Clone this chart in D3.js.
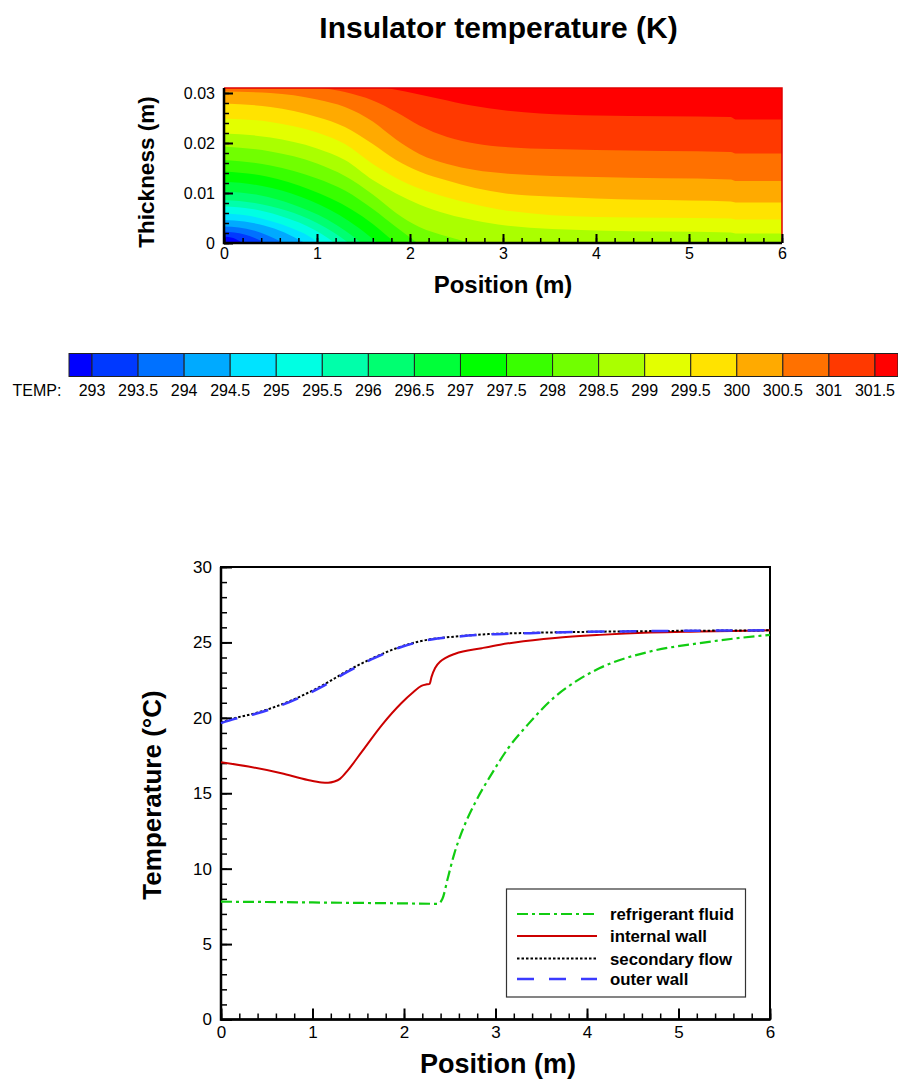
<!DOCTYPE html>
<html>
<head>
<meta charset="utf-8">
<title>Insulator temperature</title>
<script src="https://d3js.org/d3.v7.min.js"></script>
<style>
    body { margin: 0; background: #fff; }
    svg { display: block; font-family: "Liberation Sans", Arial, Helvetica, sans-serif; }
    .axis text { font-family: "Liberation Sans", Arial, Helvetica, sans-serif; fill: #000; }
    .axis line { stroke: #000; }
    .title { font-weight: bold; fill: #000; }
</style>
</head>
<body>
<script>
(function(){

    //contour levels (K) shown on the colour bar
    var levels = [293, 293.5, 294, 294.5, 295, 295.5, 296, 296.5, 297, 297.5,
                  298, 298.5, 299, 299.5, 300, 300.5, 301, 301.5];

    //isotherms: [position (m), thickness (m)] for each level above
    var isotherms = [
        [[0,0.0013],[0.1,0.0010],[0.2,0]],
        [[0,0.0023],[0.11,0.0021],[0.22,0.0017],[0.33,0.0010],[0.44,0]],
        [[0,0.0033],[0.16,0.0031],[0.32,0.0025],[0.47,0.0015],[0.64,0]],
        [[0,0.0046],[0.22,0.0043],[0.43,0.0035],[0.65,0.0021],[0.76,0.0011],[0.87,0]],
        [[0,0.0059],[0.25,0.0055],[0.5,0.0044],[0.75,0.0028],[0.9,0.0015],[1.02,0]],
        [[0,0.0073],[0.3,0.0068],[0.59,0.0055],[0.89,0.0034],[1.05,0.0018],[1.19,0]],
        [[0,0.0086],[0.33,0.0080],[0.67,0.0065],[1.0,0.0040],[1.18,0.0021],[1.34,0]],
        [[0,0.0103],[0.37,0.0096],[0.74,0.0077],[1.11,0.0047],[1.3,0.0025],[1.48,0]],
        [[0,0.0123],[0.41,0.0114],[0.83,0.0092],[1.24,0.0056],[1.45,0.0030],[1.65,0]],
        [[0,0.0143],[0.46,0.0133],[0.92,0.0107],[1.38,0.0066],[1.6,0.0038],[1.84,0]],
        [[0,0.0166],[0.5,0.0155],[1.0,0.0129],[1.3,0.0105],[1.6,0.0068],[1.85,0.0032],[2.08,0]],
        [[0,0.0193],[0.5,0.0183],[1.0,0.0159],[1.3,0.0134],[1.6,0.0097],[1.85,0.0060],[2.1,0.0032],[2.4,0.0013],[2.65,0]],
        [[0,0.0219],[0.5,0.0211],[1.0,0.0189],[1.3,0.0166],[1.6,0.0126],[1.85,0.0099],[2.1,0.0077],[2.4,0.0058],[2.7,0.0045],[3.03,0.0035],[4,0.0025],[5.45,0.0021],[5.5,0.0019],[6,0.0019]],
        [[0,0.0249],[0.5,0.0242],[1.0,0.0221],[1.3,0.0198],[1.6,0.0158],[1.85,0.0130],[2.1,0.0109],[2.4,0.0091],[2.7,0.0077],[3.03,0.0065],[4,0.0052],[5.45,0.0049],[5.5,0.0047],[6,0.0047]],
        [[0,0.0279],[0.5,0.0272],[1.0,0.0252],[1.3,0.0232],[1.6,0.0198],[1.85,0.0166],[2.1,0.0143],[2.4,0.0125],[2.7,0.0110],[3.03,0.0099],[3.5,0.0093],[4,0.0089],[5,0.0085],[5.45,0.0083],[5.5,0.0081],[6,0.0081]],
        [[0,0.0303],[0.5,0.0300],[1.0,0.0287],[1.3,0.0272],[1.6,0.0243],[1.85,0.0207],[2.1,0.0178],[2.4,0.0158],[2.7,0.0146],[3.03,0.0139],[4,0.0132],[5.45,0.0127],[5.5,0.0124],[6,0.0124]],
        [[1.05,0.031],[1.3,0.0302],[1.6,0.0285],[1.85,0.0262],[2.1,0.0235],[2.4,0.0212],[2.7,0.0199],[3.03,0.0192],[4,0.0186],[5.45,0.0182],[5.5,0.0179],[6,0.0179]],
        [[1.75,0.031],[1.95,0.0303],[2.3,0.0289],[2.66,0.0275],[3.03,0.0265],[3.4,0.0259],[4,0.0255],[5.45,0.0252],[5.5,0.0247],[6,0.0247]]
    ];

    //tick labels
    var posTicks = [0, 1, 2, 3, 4, 5, 6];
    var thickTicks = [0, 0.01, 0.02, 0.03];
    var tempTicks = [0, 5, 10, 15, 20, 25, 30];

    //line chart series (position m, temperature C)
    var fluidX = [0, 0.5, 1.0, 1.5, 2.0, 2.37, 2.42, 2.48, 2.55, 2.63, 2.78, 2.96, 3.14, 3.36, 3.65, 3.9, 4.14, 4.69, 5.23, 5.6, 6.0];
    var fluidT = [7.81, 7.79, 7.76, 7.73, 7.70, 7.67, 8.0, 9.4, 11.0, 12.4, 14.4, 16.3, 18.0, 19.6, 21.4, 22.5, 23.3, 24.4, 24.95, 25.25, 25.5];

    var wallX = [0, 0.3, 0.66, 0.95, 1.1, 1.17, 1.24, 1.3, 1.39, 1.54, 1.76, 1.97, 2.1, 2.19, 2.25, 2.28, 2.3, 2.34, 2.4, 2.45, 2.56, 2.85, 3.05, 3.21, 3.65, 4.14, 4.69, 5.23, 6.0];
    var wallT = [17.06, 16.77, 16.33, 15.88, 15.72, 15.70, 15.78, 15.95, 16.55, 17.76, 19.54, 20.97, 21.7, 22.12, 22.22, 22.25, 22.7, 23.3, 23.75, 23.96, 24.25, 24.62, 24.85, 25.0, 25.3, 25.5, 25.65, 25.72, 25.8];

    var flowX = [0, 0.15, 0.37, 0.74, 1.1, 1.39, 1.68, 1.97, 2.3, 2.56, 2.92, 3.3, 3.58, 4.0, 4.69, 5.3, 6.0];
    var flowT = [19.69, 19.98, 20.3, 21.08, 22.12, 23.14, 24.02, 24.73, 25.22, 25.39, 25.55, 25.62, 25.66, 25.7, 25.75, 25.78, 25.8];

    var outerX = [0, 0.15, 0.37, 0.74, 1.1, 1.39, 1.68, 1.97, 2.3, 2.56, 2.92, 3.3, 3.58, 4.0, 4.69, 5.3, 6.0];
    var outerT = [19.65, 19.93, 20.25, 21.03, 22.05, 23.08, 23.97, 24.7, 25.2, 25.37, 25.53, 25.6, 25.65, 25.7, 25.75, 25.78, 25.8];

    var seriesNames = ["refrigerant fluid", "internal wall", "secondary flow", "outer wall"];

    //rainbow colour for band index (0 .. levels.length)
    var bandColor = d3.scaleLinear()
        .domain([0, 4.5, 9, 13.5, 18])
        .range(["#0000ff", "#00ffff", "#00ff00", "#ffff00", "#ff0000"]);

    var svg = d3.select("body")
        .append("svg")
        .attr("width", 898)
        .attr("height", 1084);

    setContour();
    setColorbar();
    setLineChart();

    //draw inside ticks (major + minor) on an axis, returns the major group
    function insideAxis(axisFn, scale, major, minor, majLen, minLen, pad, fmt, shift, fontSize){
        var g = svg.append("g")
            .attr("class", "axis")
            .attr("transform", shift);
        g.append("g")
            .call(axisFn(scale).tickValues(minor).tickSize(-minLen).tickFormat(""))
            .call(function(s){ s.select(".domain").remove(); })
            .selectAll("line").attr("stroke-width", 1.5);
        var maj = g.append("g")
            .call(axisFn(scale).tickValues(major).tickSize(-majLen).tickPadding(pad).tickFormat(fmt))
            .call(function(s){ s.select(".domain").remove(); });
        maj.selectAll("line").attr("stroke-width", 2);
        maj.selectAll("text").style("font-size", fontSize);
        return maj;
    }

    function range(a, b, step){
        return d3.range(0, Math.round((b - a) / step) + 1).map(function(i){ return +(a + i * step).toFixed(4); });
    }

    //filled temperature field
    function setContour(){

        var x = d3.scaleLinear().domain([0, 6]).range([224, 782]),
            y = d3.scaleLinear().domain([0, 0.031]).range([243, 88]);

        svg.append("clipPath")
            .attr("id", "fieldClip")
            .append("rect")
            .attr("x", 224).attr("y", 88)
            .attr("width", 558).attr("height", 155);

        var field = svg.append("g").attr("clip-path", "url(#fieldClip)");

        //coldest band as background
        field.append("rect")
            .attr("x", 224).attr("y", 88)
            .attr("width", 558).attr("height", 155)
            .attr("fill", bandColor(0));

        var isoLine = d3.line()
            .x(function(d){ return x(d[0]); })
            .y(function(d){ return y(d[1]); })
            .curve(d3.curveMonotoneX);

        //each level fills everything on its warm side
        levels.forEach(function(level, i){
            var pts = isotherms[i],
                first = pts[0],
                last = pts[pts.length - 1],
                d = isoLine(pts);
            if (last[1] <= 0 && last[0] < 6) d += "L" + x(6) + "," + y(0);
            d += "L" + x(6) + "," + y(0.031);
            if (first[0] <= 0) d += "L" + x(0) + "," + y(0.031);
            d += "Z";
            field.append("path")
                .attr("d", d)
                .attr("fill", bandColor(i + 1));
        });

        //top / right border
        svg.append("path")
            .attr("d", "M224,88H782V243")
            .attr("fill", "none")
            .attr("stroke", "#e00000")
            .attr("stroke-width", 1.5);

        insideAxis(d3.axisBottom, x, posTicks, range(0, 6, 0.2), 9, 5, 5,
            d3.format("d"), "translate(0,243)", "16px");

        insideAxis(d3.axisLeft, y, thickTicks, range(0, 0.03, 0.002), 9, 5, 9,
            function(d){ return d === 0 ? "0" : d3.format(".2f")(d); }, "translate(224,0)", "16px");

        //axis lines
        svg.append("path")
            .attr("d", "M224,88V243H782")
            .attr("fill", "none")
            .attr("stroke", "#000")
            .attr("stroke-width", 2.5);

        svg.append("text")
            .attr("class", "title")
            .attr("x", 498.5).attr("y", 37.5)
            .attr("text-anchor", "middle")
            .style("font-size", "30px")
            .text("Insulator temperature (K)");

        svg.append("text")
            .attr("class", "title")
            .attr("x", 503).attr("y", 292.5)
            .attr("text-anchor", "middle")
            .style("font-size", "24px")
            .text("Position (m)");

        svg.append("text")
            .attr("class", "title")
            .attr("transform", "translate(154,172) rotate(-90)")
            .attr("text-anchor", "middle")
            .style("font-size", "22.5px")
            .text("Thickness (m)");
    }

    //colour legend bar
    function setColorbar(){

        var cb = d3.scaleLinear().domain([292.75, 301.75]).range([69, 898]);
        var edges = [292.75].concat(levels, [301.75]);

        svg.append("g")
            .selectAll("rect")
            .data(d3.range(edges.length - 1))
            .enter()
            .append("rect")
            .attr("x", function(i){ return cb(edges[i]); })
            .attr("y", 353.5)
            .attr("width", function(i){ return cb(edges[i + 1]) - cb(edges[i]); })
            .attr("height", 23)
            .attr("fill", function(i){ return bandColor(i); })
            .attr("stroke", "#222")
            .attr("stroke-width", 1);

        svg.append("g")
            .selectAll("text")
            .data(levels)
            .enter()
            .append("text")
            .attr("x", function(d){ return cb(d); })
            .attr("y", 395.5)
            .attr("text-anchor", "middle")
            .style("font-size", "16px")
            .text(function(d){ return d; });

        svg.append("text")
            .attr("x", 12.5).attr("y", 395.5)
            .style("font-size", "16px")
            .text("TEMP:");
    }

    //temperature profiles
    function setLineChart(){

        var x = d3.scaleLinear().domain([0, 6]).range([221, 770]),
            y = d3.scaleLinear().domain([0, 30]).range([1019.5, 567]);

        insideAxis(d3.axisBottom, x, posTicks, range(0, 6, 0.2), 11, 6, 6,
            d3.format("d"), "translate(0,1019.5)", "17px");

        insideAxis(d3.axisLeft, y, tempTicks, range(0, 30, 1), 11, 6, 9,
            d3.format("d"), "translate(221,0)", "17px");

        //frame
        svg.append("rect")
            .attr("x", 221).attr("y", 567)
            .attr("width", 549).attr("height", 452.5)
            .attr("fill", "none")
            .attr("stroke", "#000")
            .attr("stroke-width", 2);
        svg.append("path")
            .attr("d", "M221,567V1019.5H770")
            .attr("fill", "none")
            .attr("stroke", "#000")
            .attr("stroke-width", 2.5);

        var styles = [
            {color: "#11cc11", width: 2.2, dash: "11,4,3,4"},
            {color: "#cc0000", width: 2, dash: null},
            {color: "#000000", width: 2, dash: "2.5,2"},
            {color: "#3a3aff", width: 2.5, dash: "17,15"}
        ];
        var series = [
            d3.zip(fluidX, fluidT),
            d3.zip(wallX, wallT),
            d3.zip(flowX, flowT),
            d3.zip(outerX, outerT)
        ];

        var line = d3.line()
            .x(function(d){ return x(d[0]); })
            .y(function(d){ return y(d[1]); })
            .curve(d3.curveMonotoneX);

        series.forEach(function(s, i){
            svg.append("path")
                .datum(s)
                .attr("d", line)
                .attr("fill", "none")
                .attr("stroke", styles[i].color)
                .attr("stroke-width", styles[i].width)
                .attr("stroke-dasharray", styles[i].dash);
        });

        //legend
        var legend = svg.append("g");
        legend.append("rect")
            .attr("x", 506.5).attr("y", 889)
            .attr("width", 239).attr("height", 108)
            .attr("fill", "#fff")
            .attr("stroke", "#333")
            .attr("stroke-width", 1.2);

        var rowY = [914, 936, 958.5, 979];
        seriesNames.forEach(function(name, i){
            legend.append("line")
                .attr("x1", 517).attr("x2", 597)
                .attr("y1", rowY[i]).attr("y2", rowY[i])
                .attr("stroke", styles[i].color)
                .attr("stroke-width", styles[i].width)
                .attr("stroke-dasharray", styles[i].dash);
            legend.append("text")
                .attr("x", 610).attr("y", rowY[i] + 6)
                .style("font-size", "16.8px")
                .style("font-weight", "bold")
                .text(name);
        });

        svg.append("text")
            .attr("class", "title")
            .attr("x", 498).attr("y", 1072.5)
            .attr("text-anchor", "middle")
            .style("font-size", "27px")
            .text("Position (m)");

        svg.append("text")
            .attr("class", "title")
            .attr("transform", "translate(161,795) rotate(-90)")
            .attr("text-anchor", "middle")
            .style("font-size", "26px")
            .text("Temperature (°C)");
    }

})();
</script>
</body>
</html>
